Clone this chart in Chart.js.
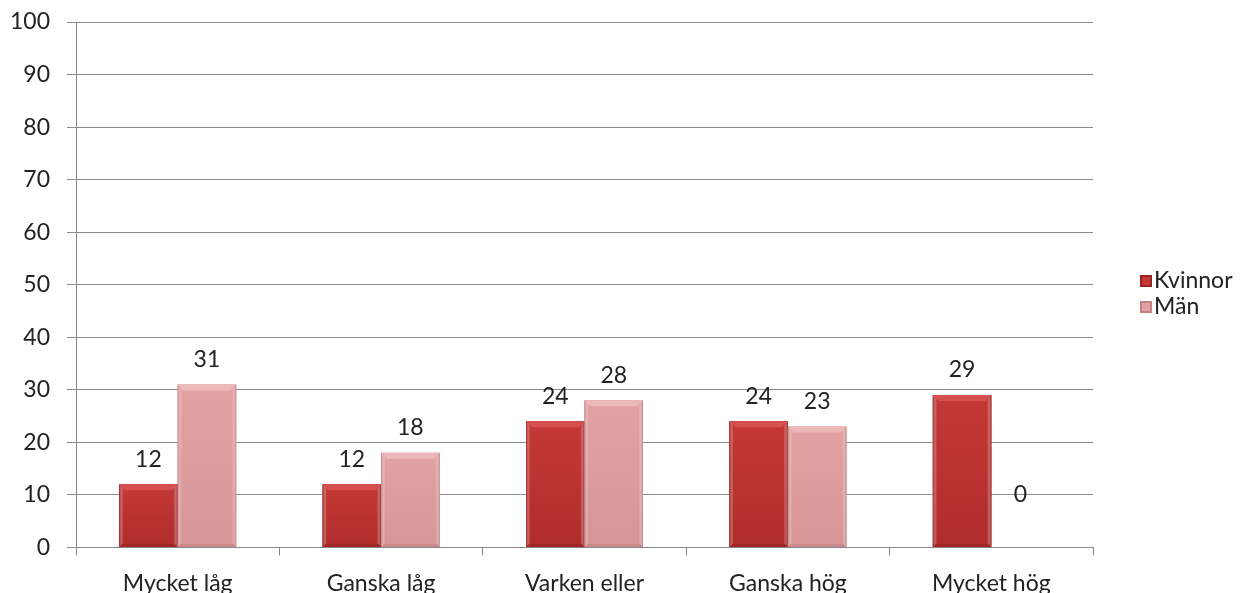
<!DOCTYPE html>
<html>
<head>
<meta charset="utf-8">
<script src="https://cdn.jsdelivr.net/npm/chart.js@4/dist/chart.umd.min.js"></script>
<style>
  html, body { margin: 0; padding: 0; background: #fff; overflow: hidden; }
  #wrap { width: 1241px; height: 593px; overflow: hidden; }
</style>
</head>
<body>
<div id="wrap"><canvas id="c" width="1241" height="611"></canvas></div>
<script>
// data
const categories = ['Mycket låg', 'Ganska låg', 'Varken eller', 'Ganska hög', 'Mycket hög'];
const kvinnor = [12, 12, 24, 24, 29];
const man = [31, 18, 28, 23, 0];
const yTicks = [0, 10, 20, 30, 40, 50, 60, 70, 80, 90, 100];

const FONT = 'Lato, "Open Sans", sans-serif';
const SIZE = 23;

const shades = [
  { edge: '#992222', face: '#c43937', low: '#b02c2b', top: '#d5504e', bottom: '#a32626' },
  { edge: '#c48487', face: '#e2a2a4', low: '#d69597', top: '#ecb8b9', bottom: '#c9898b' }
];

// bevel-like shading painted over each bar, using the bar element geometry
const bevel = {
  id: 'bevel',
  afterDatasetsDraw(chart) {
    const c = chart.ctx;
    c.save();
    chart.data.datasets.forEach((ds, i) => {
      const s = shades[i];
      chart.getDatasetMeta(i).data.forEach(bar => {
        const h = bar.base - bar.y;
        if (h < 2) return;
        const x0 = bar.x - bar.width / 2, x1 = bar.x + bar.width / 2;
        // face: lighter top, a bit darker toward the base
        const gv = c.createLinearGradient(0, bar.y, 0, bar.base);
        gv.addColorStop(0, s.face);
        gv.addColorStop(1, s.low);
        c.fillStyle = gv;
        c.fillRect(x0, bar.y, bar.width, h);
        // side edges
        const gh = c.createLinearGradient(x0, 0, x1, 0);
        gh.addColorStop(0, s.edge);
        gh.addColorStop(0.07, 'rgba(255,255,255,0)');
        gh.addColorStop(0.93, 'rgba(255,255,255,0)');
        gh.addColorStop(1, s.edge);
        c.fillStyle = gh;
        c.fillRect(x0, bar.y, bar.width, h);
        const b = Math.min(6, h / 2);
        // top bevel
        c.fillStyle = s.top;
        c.beginPath();
        c.moveTo(x0, bar.y); c.lineTo(x1, bar.y);
        c.lineTo(x1 - b, bar.y + b); c.lineTo(x0 + b, bar.y + b);
        c.closePath(); c.fill();
        // bottom bevel
        const bb = Math.min(3, h / 4);
        c.fillStyle = s.bottom;
        c.beginPath();
        c.moveTo(x0, bar.base); c.lineTo(x1, bar.base);
        c.lineTo(x1 - bb, bar.base - bb); c.lineTo(x0 + bb, bar.base - bb);
        c.closePath(); c.fill();
      });
    });
    c.restore();
  }
};

const valueLabels = {
  id: 'valueLabels',
  afterDatasetsDraw(chart) {
    const c = chart.ctx;
    c.save();
    c.font = SIZE + 'px ' + FONT;
    c.fillStyle = '#222';
    c.textAlign = 'center';
    c.textBaseline = 'middle';
    chart.data.datasets.forEach((ds, i) => {
      chart.getDatasetMeta(i).data.forEach((bar, j) => {
        const v = ds.data[j];
        const off = v === 0 ? 53 : 25;
        c.fillText(String(v), bar.x, bar.y - off);
      });
    });
    c.restore();
  }
};

const sideLegend = {
  id: 'sideLegend',
  afterDraw(chart) {
    const c = chart.ctx;
    c.save();
    c.font = SIZE + 'px ' + FONT;
    c.textBaseline = 'middle';
    const ys = [281, 307];
    chart.data.datasets.forEach((ds, i) => {
      const y = ys[i];
      const s = shades[i];
      c.fillStyle = s.edge;
      c.fillRect(1140, y - 6, 12, 12);
      c.fillStyle = s.face;
      c.fillRect(1142, y - 4, 8, 8);
      c.fillStyle = '#222';
      c.fillText(ds.label, 1154, y);
    });
    c.restore();
  }
};

new Chart(document.getElementById('c'), {
  type: 'bar',
  data: {
    labels: categories,
    datasets: [
      { label: 'Kvinnor', data: kvinnor, backgroundColor: shades[0].face, borderWidth: 0 },
      { label: 'Män', data: man, backgroundColor: shades[1].face, borderWidth: 0 }
    ]
  },
  options: {
    responsive: false,
    animation: false,
    layout: { padding: { top: 0, right: 148, left: 0, bottom: 0 } },
    plugins: {
      legend: { display: false },
      tooltip: { enabled: false }
    },
    datasets: {
      bar: { barPercentage: 1.0, categoryPercentage: 0.575 }
    },
    scales: {
      x: {
        grid: { display: true, offset: true, drawOnChartArea: false, color: '#888', tickLength: 8 },
        border: { color: '#888' },
        ticks: { color: '#222', font: { family: FONT, size: SIZE }, padding: 14 }
      },
      y: {
        min: 0, max: 100,
        afterBuildTicks: axis => { axis.ticks = yTicks.map(v => ({ value: v })); },
        afterFit: axis => { axis.width = 76; axis.paddingTop = 22; axis.paddingBottom = 14; },
        grid: { color: '#8c8c8c', tickLength: 9 },
        border: { color: '#888' },
        ticks: { color: '#222', font: { family: FONT, size: SIZE }, padding: 17 }
      }
    }
  },
  plugins: [bevel, valueLabels, sideLegend]
});
</script>
</body>
</html>
